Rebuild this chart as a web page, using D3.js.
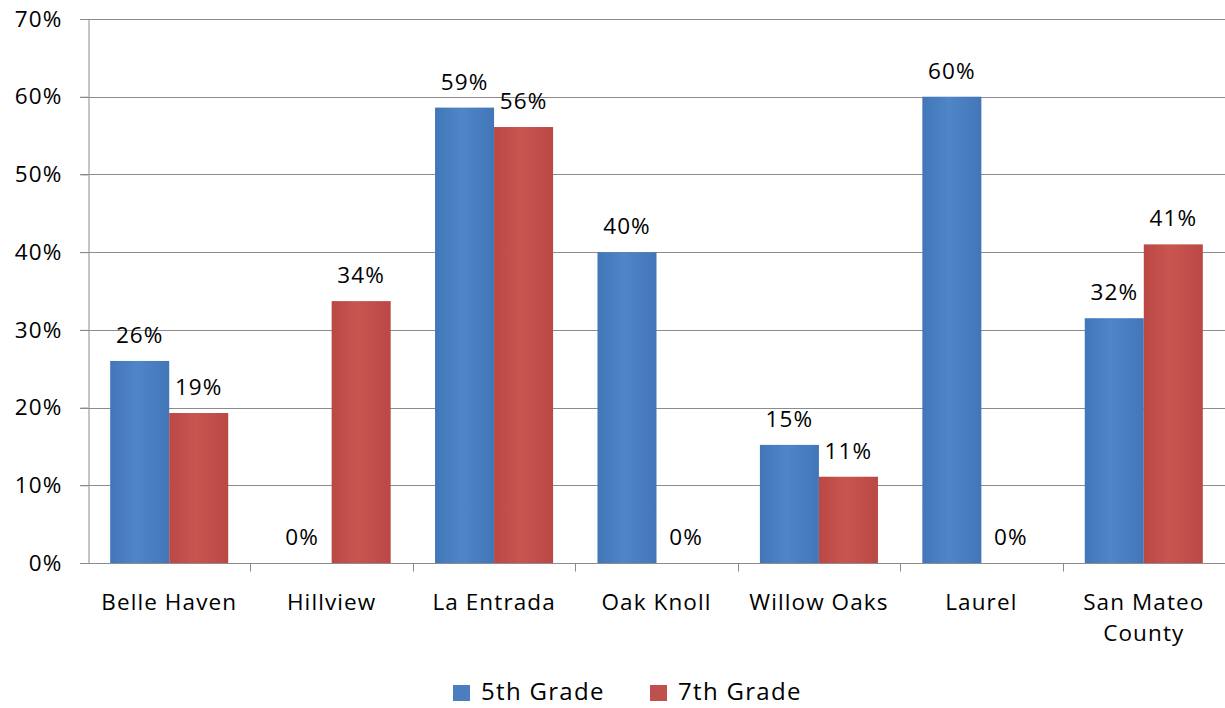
<!DOCTYPE html>
<html>
<head>
<meta charset="utf-8">
<script src="https://cdn.jsdelivr.net/npm/d3@7"></script>
<style>
  html, body { margin: 0; padding: 0; background: #fff; }
  svg { display: block; font-family: "Open Sans", Lato, sans-serif; }
</style>
</head>
<body>
<svg id="chart" width="1225" height="708"></svg>
<script>
// Share of students per school, by grade
const categories = ["Belle Haven", "Hillview", "La Entrada", "Oak Knoll", "Willow Oaks", "Laurel", "San Mateo County"];
const series = ["5th Grade", "7th Grade"];
const grade5 = [0.26, 0, 0.586, 0.40, 0.152, 0.60, 0.315];
const grade7 = [0.193, 0.337, 0.561, 0, 0.111, 0, 0.41];
const grade5Labels = ["26%", "0%", "59%", "40%", "15%", "60%", "32%"];
const grade7Labels = ["19%", "34%", "56%", "0%", "11%", "0%", "41%"];
const yTicks = [0, 0.1, 0.2, 0.3, 0.4, 0.5, 0.6, 0.7];
const colors = ["#4a7ebf", "#c0504d"];

const svg = d3.select("#chart");
const margin = { left: 88, right: 0, top: 19, bottom: 145 };
const W = 1225, H = 708;
const FONT = 22.5;
const SPACING = "1.1px";

const x0 = d3.scaleBand().domain(categories).range([margin.left, W - margin.right]).paddingInner(0).paddingOuter(0);
const x1 = d3.scaleBand().domain(series).range([0, x0.bandwidth()]).paddingInner(0).paddingOuter(0.376);
const y = d3.scaleLinear().domain([0, 0.7]).range([H - margin.bottom, margin.top]);

// gradients for a soft shaded bar look
const defs = svg.append("defs");
[["g5", "#4276b8", "#4f86c8"], ["g7", "#ba4845", "#c9554f"]].forEach(([id, a, b]) => {
  const g = defs.append("linearGradient").attr("id", id).attr("x1", "0").attr("x2", "1").attr("y1", "0").attr("y2", "0");
  g.append("stop").attr("offset", "0%").attr("stop-color", a);
  g.append("stop").attr("offset", "45%").attr("stop-color", b);
  g.append("stop").attr("offset", "100%").attr("stop-color", a);
});

// horizontal gridlines
svg.append("g").selectAll("line").data(yTicks.slice(1)).join("line")
  .attr("x1", margin.left - 8).attr("x2", W)
  .attr("y1", d => Math.round(y(d)) + 0.5).attr("y2", d => Math.round(y(d)) + 0.5)
  .attr("stroke", "#8c8c8c").attr("stroke-width", 1);

// y axis
const yAxis = svg.append("g").attr("transform", `translate(${margin.left + 0.5},0)`)
  .call(d3.axisLeft(y).tickValues(yTicks).tickFormat(d3.format(".0%")).tickSize(8).tickPadding(18));
yAxis.select(".domain").attr("stroke", "#8c8c8c");
yAxis.selectAll(".tick line").attr("stroke", "#8c8c8c");
yAxis.selectAll(".tick text").attr("font-size", FONT).attr("fill", "#000")
  .attr("font-family", "'Open Sans', sans-serif").attr("letter-spacing", SPACING);

// bars
const groups = svg.append("g").selectAll("g").data(categories).join("g")
  .attr("transform", d => `translate(${x0(d)},0)`);

const rows = categories.map((c, i) => [
  { s: series[0], v: grade5[i], lab: grade5Labels[i], fill: "url(#g5)" },
  { s: series[1], v: grade7[i], lab: grade7Labels[i], fill: "url(#g7)" }
]);

groups.each(function (c, i) {
  const g = d3.select(this);
  g.selectAll("rect").data(rows[i]).join("rect")
    .attr("x", d => x1(d.s))
    .attr("width", x1.bandwidth())
    .attr("y", d => y(d.v))
    .attr("height", d => y(0) - y(d.v))
    .attr("fill", d => d.fill);
  g.selectAll("text.val").data(rows[i]).join("text")
    .attr("class", "val")
    .attr("x", d => x1(d.s) + x1.bandwidth() / 2)
    .attr("y", d => y(d.v) - 18)
    .attr("text-anchor", "middle")
    .attr("font-size", FONT)
    .attr("letter-spacing", SPACING)
    .attr("fill", "#000")
    .text(d => d.lab);
});

// x axis baseline and category ticks
const baseY = Math.round(y(0)) + 0.5;
svg.append("line").attr("x1", margin.left - 8).attr("x2", W).attr("y1", baseY).attr("y2", baseY)
  .attr("stroke", "#8c8c8c");
svg.append("g").selectAll("line").data(categories.slice(1)).join("line")
  .attr("x1", d => Math.round(x0(d)) + 0.5).attr("x2", d => Math.round(x0(d)) + 0.5)
  .attr("y1", baseY).attr("y2", baseY + 8)
  .attr("stroke", "#8c8c8c");

// category labels (wrap long names onto two lines)
const catLines = c => c === "San Mateo County" ? ["San Mateo", "County"] : [c];
svg.append("g").selectAll("text").data(categories).join("text")
  .attr("x", d => x0(d) + x0.bandwidth() / 2)
  .attr("y", baseY + 46)
  .attr("text-anchor", "middle")
  .attr("font-size", FONT)
  .attr("letter-spacing", SPACING)
  .attr("fill", "#000")
  .each(function (d) {
    const t = d3.select(this);
    catLines(d).forEach((line, k) => {
      t.append("tspan").attr("x", x0(d) + x0.bandwidth() / 2).attr("dy", k === 0 ? 0 : 31).text(line);
    });
  });

// legend
const legend = svg.append("g");
const legendX = [453, 650];
series.forEach((s, i) => {
  legend.append("rect").attr("x", legendX[i]).attr("y", 685).attr("width", 17).attr("height", 16)
    .attr("fill", colors[i]);
  legend.append("text").attr("x", legendX[i] + 28).attr("y", 700)
    .attr("font-size", 24).attr("letter-spacing", "1.3px").attr("fill", "#000").text(s);
});
</script>
</body>
</html>
